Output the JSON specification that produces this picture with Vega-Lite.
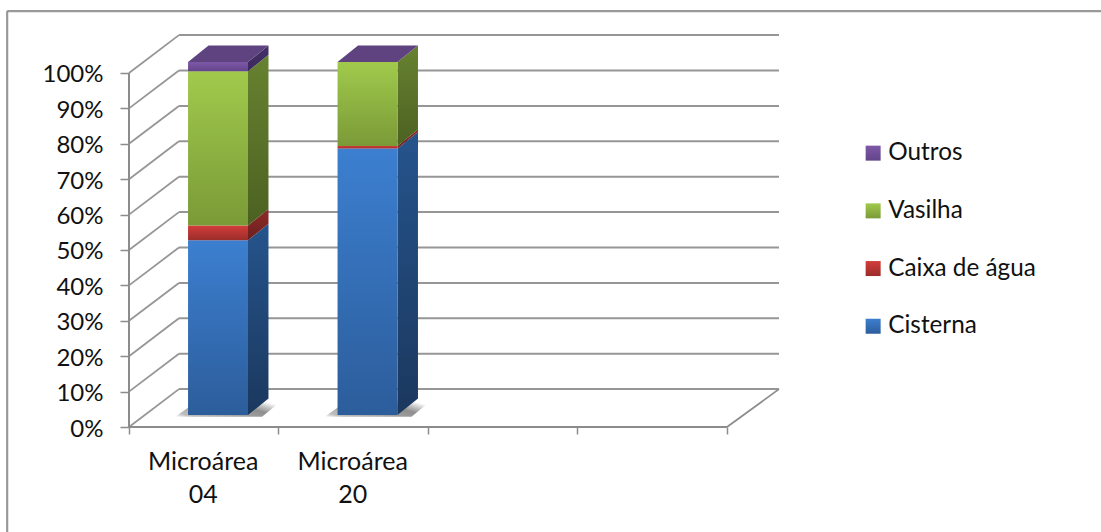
{
  "$schema": "https://vega.github.io/schema/vega-lite/v6.json",
  "autosize": {"type": "none"},
  "padding": {"left": 129, "top": 0, "right": 0, "bottom": 105},
  "width": 972,
  "height": 427,
  "background": "white",
  "view": {"stroke": null},
  "config": {"font": "Lato"},
  "datasets": {
    "segmentos": [
      {"area": "Microárea 04", "indice": 0, "serie": "Cisterna", "inicio": 0, "fim": 49.5},
      {"area": "Microárea 04", "indice": 0, "serie": "Caixa de água", "inicio": 49.5, "fim": 53.7},
      {"area": "Microárea 04", "indice": 0, "serie": "Vasilha", "inicio": 53.7, "fim": 97.4},
      {"area": "Microárea 04", "indice": 0, "serie": "Outros", "inicio": 97.4, "fim": 100},
      {"area": "Microárea 20", "indice": 1, "serie": "Cisterna", "inicio": 0, "fim": 75.5},
      {"area": "Microárea 20", "indice": 1, "serie": "Caixa de água", "inicio": 75.5, "fim": 76.2},
      {"area": "Microárea 20", "indice": 1, "serie": "Vasilha", "inicio": 76.2, "fim": 100},
      {"area": "Microárea 20", "indice": 1, "serie": "Outros", "inicio": 100, "fim": 100}
    ],
    "grade": [
      {"pct": 0}, {"pct": 10}, {"pct": 20}, {"pct": 30}, {"pct": 40}, {"pct": 50},
      {"pct": 60}, {"pct": 70}, {"pct": 80}, {"pct": 90}, {"pct": 100}
    ],
    "unico": [{"id": 1}]
  },
  "layer": [
    {
      "data": {"name": "unico"},
      "mark": {"type": "rule", "color": "#999999", "strokeWidth": 2.2},
      "encoding": {
        "x": {"datum": -0.815, "type": "quantitative", "scale": {"domain": [0, 6.502], "range": [0, 972], "nice": false, "zero": false},
          "axis": {
            "title": null, "domain": false, "grid": false,
            "values": [0, 0.5, 1, 1.5, 2, 3, 4],
            "labelExpr": "datum.value == 0.5 ? ['Microárea', '04'] : datum.value == 1.5 ? ['Microárea', '20'] : ''",
            "labelFontSize": 25, "labelColor": "#111111", "labelOverlap": false, "labelPadding": 15, "labelLineHeight": 33, "labelBaseline": "top", "labelFlush": false, "labelOffset": -1,
            "tickSize": 7, "tickColor": "#8c8c8c", "tickWidth": 1.5,
            "tickOpacity": {"condition": {"test": "datum.value % 1 != 0", "value": 0}, "value": 1}
          }
        },
        "y": {"datum": -30, "type": "quantitative", "scale": {"domain": [0, 120.62], "range": [427, 0], "nice": false, "zero": false},
          "axis": {
            "title": null, "domain": false, "grid": false,
            "values": [0, 10, 20, 30, 40, 50, 60, 70, 80, 90, 100],
            "labelExpr": "datum.value + '%'",
            "labelFontSize": 24, "labelColor": "#111111", "labelPadding": 17, "labelOverlap": false, "labelOffset": 2,
            "tickSize": 9, "tickColor": "#8c8c8c", "tickWidth": 1.5
          }
        },
        "y2": {"datum": 117.5}
      }
    },
    {
      "data": {"name": "unico"},
      "mark": {"type": "rule", "color": "#999999", "strokeWidth": 2.2},
      "encoding": {
        "x": {"datum": -0.815, "type": "quantitative"},
        "x2": {"datum": 6.502},
        "y": {"datum": 117.5, "type": "quantitative"}
      }
    },
    {
      "data": {"name": "grade"},
      "transform": [{"calculate": "datum.pct + 10.7", "as": "fundo"}],
      "mark": {"type": "rule", "color": "#969696", "strokeWidth": 1.8},
      "encoding": {
        "x": {"datum": 0, "type": "quantitative"},
        "x2": {"datum": 0.334},
        "y": {"field": "pct", "type": "quantitative"},
        "y2": {"field": "fundo"}
      }
    },
    {
      "data": {"name": "grade"},
      "transform": [{"calculate": "datum.pct + 10.7", "as": "fundo"}],
      "mark": {"type": "rule", "color": "#969696", "strokeWidth": 2},
      "encoding": {
        "x": {"datum": 0.334, "type": "quantitative"},
        "x2": {"datum": 4.348},
        "y": {"field": "fundo", "type": "quantitative"}
      }
    },
    {
      "data": {"name": "unico"},
      "mark": {"type": "rule", "color": "#8c8c8c", "strokeWidth": 2},
      "encoding": {
        "x": {"datum": 0, "type": "quantitative"},
        "x2": {"datum": 4},
        "y": {"datum": 0, "type": "quantitative"}
      }
    },
    {
      "data": {"name": "unico"},
      "mark": {"type": "rule", "color": "#8c8c8c", "strokeWidth": 2},
      "encoding": {
        "x": {"datum": 0, "type": "quantitative"},
        "y": {"datum": 0, "type": "quantitative"},
        "y2": {"datum": 100}
      }
    },
    {
      "data": {"name": "unico"},
      "mark": {"type": "rule", "color": "#8c8c8c", "strokeWidth": 1.8},
      "encoding": {
        "x": {"datum": 4, "type": "quantitative"},
        "x2": {"datum": 4.348},
        "y": {"datum": 0, "type": "quantitative"},
        "y2": {"datum": 10.7}
      }
    },
    {
      "description": "Ground shadow cast by each column",
      "data": {"name": "segmentos"},
      "transform": [
        {"filter": "datum.serie == 'Cisterna'"},
        {"calculate": "datum.indice + 0.31", "as": "a"},
        {"calculate": "datum.indice + 0.47", "as": "b"},
        {"calculate": "datum.indice + 0.89", "as": "c"},
        {"calculate": "datum.indice + 1.03", "as": "d"},
        {"fold": ["a", "b", "c", "d"], "as": ["ponto", "xs"]},
        {"calculate": "datum.ponto == 'a' ? 2.9 : 7.8", "as": "alto"},
        {"calculate": "datum.ponto == 'd' ? 7.8 : 2.9", "as": "baixo"}
      ],
      "mark": {
        "type": "area",
        "fill": {
          "gradient": "linear", "x1": 0, "y1": 1, "x2": 1, "y2": 0.4,
          "stops": [
            {"offset": 0, "color": "#ffffff"},
            {"offset": 0.12, "color": "#bdbdbd"},
            {"offset": 0.72, "color": "#8f8f8f"},
            {"offset": 0.86, "color": "#c4c4c4"},
            {"offset": 1, "color": "#ffffff"}
          ]
        }
      },
      "encoding": {
        "x": {"field": "xs", "type": "quantitative"},
        "y": {"field": "alto", "type": "quantitative"},
        "y2": {"field": "baixo"},
        "detail": {"field": "area", "type": "nominal"}
      }
    },
    {
      "description": "Right-hand face of each stacked segment",
      "data": {"name": "segmentos"},
      "transform": [
        {"calculate": "datum.indice + 0.796", "as": "frente"},
        {"calculate": "datum.indice + 0.933", "as": "fundo"},
        {"fold": ["frente", "fundo"], "as": ["ponto", "xs"]},
        {"calculate": "(datum.fim * 0.997 + 3.39) + (datum.ponto == 'fundo' ? 4.65 : 0)", "as": "alto"},
        {"calculate": "(datum.inicio * 0.997 + 3.39) + (datum.ponto == 'fundo' ? 4.65 : 0)", "as": "baixo"}
      ],
      "mark": {"type": "area"},
      "encoding": {
        "x": {"field": "xs", "type": "quantitative"},
        "y": {"field": "alto", "type": "quantitative"},
        "y2": {"field": "baixo"},
        "detail": {"field": "area", "type": "nominal"},
        "fill": {
          "field": "serie", "type": "nominal", "legend": null,
          "scale": {
            "domain": ["Cisterna", "Caixa de água", "Vasilha", "Outros", "Topo"],
            "range": [
              {"expr": "{gradient: 'linear', x1: 0, y1: 0, x2: 0, y2: 1, stops: [{offset: 0, color: '#25548c'}, {offset: 1, color: '#1b385e'}]}"},
              {"expr": "{gradient: 'linear', x1: 0, y1: 0, x2: 0, y2: 1, stops: [{offset: 0, color: '#8f2b29'}, {offset: 1, color: '#6b1f1e'}]}"},
              {"expr": "{gradient: 'linear', x1: 0, y1: 0, x2: 0, y2: 1, stops: [{offset: 0, color: '#678231'}, {offset: 1, color: '#4c6121'}]}"},
              {"expr": "{gradient: 'linear', x1: 0, y1: 0, x2: 0, y2: 1, stops: [{offset: 0, color: '#44306a'}, {offset: 1, color: '#3b295c'}]}"},
              "#5f4380"
            ]
          }
        }
      }
    },
    {
      "description": "Top face of each column",
      "data": {"name": "segmentos"},
      "transform": [
        {"filter": "datum.serie == 'Outros'"},
        {"calculate": "datum.indice + 0.395", "as": "a"},
        {"calculate": "datum.indice + 0.532", "as": "b"},
        {"calculate": "datum.indice + 0.796", "as": "c"},
        {"calculate": "datum.indice + 0.933", "as": "d"},
        {"fold": ["a", "b", "c", "d"], "as": ["ponto", "xs"]},
        {"calculate": "datum.fim * 0.997 + 3.39 + (datum.ponto == 'a' ? 0 : 4.65)", "as": "alto"},
        {"calculate": "datum.fim * 0.997 + 3.39 + (datum.ponto == 'd' ? 4.65 : 0)", "as": "baixo"},
        {"calculate": "'Topo'", "as": "face"}
      ],
      "mark": {"type": "area"},
      "encoding": {
        "x": {"field": "xs", "type": "quantitative"},
        "y": {"field": "alto", "type": "quantitative"},
        "y2": {"field": "baixo"},
        "detail": {"field": "area", "type": "nominal"},
        "fill": {"field": "face", "type": "nominal", "legend": null}
      }
    },
    {
      "description": "Front face of each stacked segment, which also carries the legend",
      "data": {"name": "segmentos"},
      "transform": [
        {"calculate": "datum.indice + 0.395", "as": "esq"},
        {"calculate": "datum.indice + 0.796", "as": "dir"},
        {"calculate": "datum.inicio * 0.997 + 3.39", "as": "base"},
        {"calculate": "datum.fim * 0.997 + 3.39", "as": "teto"}
      ],
      "mark": {"type": "rect"},
      "encoding": {
        "x": {"field": "esq", "type": "quantitative"},
        "x2": {"field": "dir"},
        "y": {"field": "teto", "type": "quantitative"},
        "y2": {"field": "base"},
        "color": {
          "field": "serie", "type": "nominal",
          "scale": {
            "domain": ["Outros", "Vasilha", "Caixa de água", "Cisterna"],
            "range": [
              {"expr": "{gradient: 'linear', x1: 0, y1: 0, x2: 0, y2: 1, stops: [{offset: 0, color: '#7d58a8'}, {offset: 1, color: '#634589'}]}"},
              {"expr": "{gradient: 'linear', x1: 0, y1: 0, x2: 0, y2: 1, stops: [{offset: 0, color: '#a1ca4c'}, {offset: 1, color: '#7a9a37'}]}"},
              {"expr": "{gradient: 'linear', x1: 0, y1: 0, x2: 0, y2: 1, stops: [{offset: 0, color: '#d33d3a'}, {offset: 1, color: '#9b2d2b'}]}"},
              {"expr": "{gradient: 'linear', x1: 0, y1: 0, x2: 0, y2: 1, stops: [{offset: 0, color: '#3c7fd0'}, {offset: 1, color: '#2c5d9b'}]}"}
            ]
          },
          "legend": {
            "title": null, "orient": "none", "legendX": 732, "legendY": 141,
            "symbolType": "square", "symbolSize": 225, "symbolStrokeWidth": 0,
            "labelFontSize": 24.3, "labelColor": "#111111", "labelOffset": 3,
            "rowPadding": 32.7, "labelLimit": 300
          }
        }
      }
    }
  ]
}
